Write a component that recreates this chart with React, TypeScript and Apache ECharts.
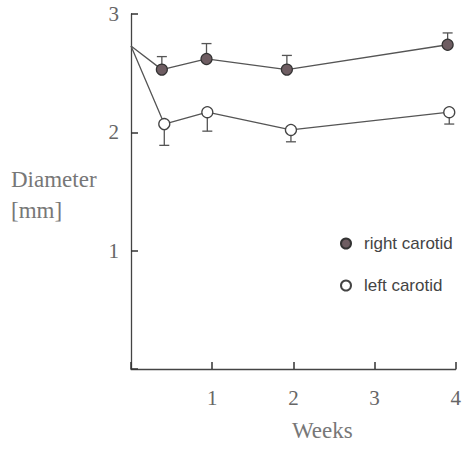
import React, { useEffect, useRef } from "react";
import * as echarts from "echarts";

const weeks = [0, 0.38, 0.93, 1.92, 3.9];
const weeksLeft = [0, 0.41, 0.94, 1.97, 3.92];
const rightMean = [2.73, 2.53, 2.62, 2.53, 2.74];
const rightUpper = [null, 2.64, 2.75, 2.65, 2.84];
const leftMean = [2.73, 2.07, 2.17, 2.02, 2.17];
const leftLower = [null, 1.89, 2.01, 1.92, 2.07];

const SERIF = "'Liberation Serif', 'DejaVu Serif', serif";
const SANS = "'Liberation Sans', Arial, sans-serif";
const LINE = "#555";

function App() {
  const ref = useRef<HTMLDivElement>(null);
  useEffect(() => {
    if (!ref.current) return;
    const chart = echarts.init(ref.current, null, { renderer: "svg" });
    const mk = (xs: number[], ys: number[]) =>
      xs.map((x, i) => ({ value: [x, ys[i]], symbolSize: i === 0 ? 0 : 11 }));
    const errData = (xs: number[], ys: number[], ends: (number | null)[]) =>
      xs.map((x, i) => [x, ys[i], ends[i]]).filter((d) => d[2] != null);
    const renderErr = (params: any, api: any) => {
      const x = api.value(0);
      const m = api.coord([x, api.value(1)]);
      const e = api.coord([x, api.value(2)]);
      const half = 5;
      return {
        type: "group",
        children: [
          { type: "line", shape: { x1: m[0], y1: m[1], x2: e[0], y2: e[1] }, style: { stroke: LINE, lineWidth: 1.3 } },
          { type: "line", shape: { x1: e[0] - half, y1: e[1], x2: e[0] + half, y2: e[1] }, style: { stroke: LINE, lineWidth: 1.3 } },
        ],
      };
    };
    const hideZero = (v: number) => (v === 0 ? "" : String(v));
    chart.setOption({
      animation: false,
      backgroundColor: "#fff",
      grid: { left: 131, width: 334, top: 14, height: 355, containLabel: false },
      xAxis: {
        type: "value",
        min: 0,
        max: 4,
        interval: 1,
        axisLine: { show: true, lineStyle: { color: "#444", width: 1.3 } },
        axisTick: { show: true, inside: true, length: 7, lineStyle: { color: "#333", width: 1.5 } },
        axisLabel: { margin: 18, fontFamily: SERIF, fontSize: 21, color: "#666", formatter: hideZero },
        splitLine: { show: false },
      },
      yAxis: {
        type: "value",
        min: 0,
        max: 3,
        interval: 1,
        axisLine: { show: true, lineStyle: { color: "#444", width: 1.3 } },
        axisTick: { show: true, inside: true, length: 7, lineStyle: { color: "#333", width: 1.5 } },
        axisLabel: { margin: 12, fontFamily: SERIF, fontSize: 21, color: "#666", formatter: hideZero },
        splitLine: { show: false },
      },
      legend: {
        orient: "vertical",
        left: 335,
        top: 230,
        itemWidth: 10,
        itemHeight: 10,
        itemGap: 25,
        data: [
          { name: "right carotid", icon: "circle" },
          { name: "left carotid", icon: "circle" },
        ],
        textStyle: { fontFamily: SANS, fontSize: 17, color: "#444", padding: [0, 0, 0, 8] },
      },
      graphic: [
        {
          type: "text",
          left: 11,
          top: 164,
          style: { text: "Diameter\n[mm]", font: `23px ${SERIF}`, fill: "#777", lineHeight: 31 },
        },
        {
          type: "text",
          left: 292,
          top: 419,
          style: { text: "Weeks", font: `23px ${SERIF}`, fill: "#777" },
        },
      ],
      series: [
        {
          type: "custom",
          name: "rightErr",
          renderItem: renderErr,
          data: errData(weeks, rightMean, rightUpper),
          z: 1,
          silent: true,
        },
        {
          type: "custom",
          name: "leftErr",
          renderItem: renderErr,
          data: errData(weeksLeft, leftMean, leftLower),
          z: 1,
          silent: true,
        },
        {
          type: "line",
          name: "right carotid",
          data: mk(weeks, rightMean),
          symbol: "circle",
          lineStyle: { color: LINE, width: 1.3 },
          itemStyle: { color: "#6e5d62", borderColor: "#333", borderWidth: 1.2 },
          z: 3,
        },
        {
          type: "line",
          name: "left carotid",
          data: mk(weeksLeft, leftMean),
          symbol: "circle",
          lineStyle: { color: LINE, width: 1.3 },
          itemStyle: { color: "#fff", borderColor: "#444", borderWidth: 1.3 },
          z: 3,
        },
      ],
    });
    return () => chart.dispose();
  }, []);
  return <div ref={ref} style={{ width: 464, height: 449, position: "absolute", left: 0, top: 0 }} />;
}

export default App;
